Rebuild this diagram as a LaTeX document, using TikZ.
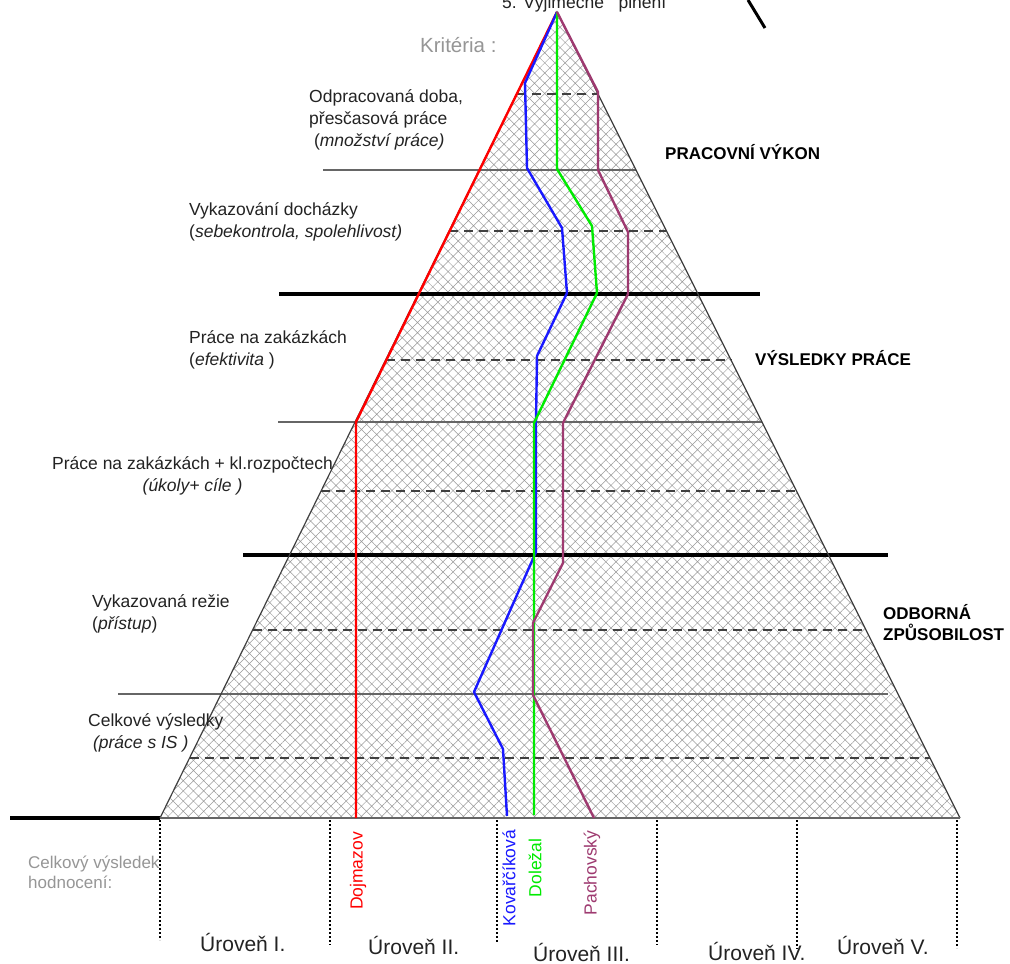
\documentclass[tikz,border=0pt]{standalone}
\usepackage{fontspec}
\setmainfont{Liberation Sans}
\usetikzlibrary{calc,patterns.meta}

\definecolor{kgreen}{RGB}{0,235,0}
\definecolor{kblue}{RGB}{25,25,255}
\definecolor{kpurple}{RGB}{158,58,112}
\definecolor{kgray}{RGB}{150,150,150}
\definecolor{ktext}{RGB}{35,35,35}

\begin{document}
\begin{tikzpicture}[x=1pt,y=-1pt,
    every node/.style={inner sep=0pt,text=ktext,font=\fontsize{17.5}{22}\selectfont},
    thick line/.style={line width=3.3pt,black},
    thin line/.style={line width=1.6pt,black!60},
    dash line/.style={line width=1.3pt,black!75,dash pattern=on 9pt off 6pt},
    level line/.style={line width=2.2pt,black,dash pattern=on 2pt off 2pt},
    person/.style={line width=2.4pt,line join=round},
    category/.style={font=\fontsize{17}{21}\selectfont\bfseries,align=left,anchor=west,text=black},
    criterion/.style={align=left,anchor=west},
    personname/.style={rotate=90,anchor=center},
    levelname/.style={font=\fontsize{21}{24}\selectfont,anchor=west}]

    \clip (0,0) rectangle (1010,964);
    \fill[white] (0,0) rectangle (1010,964);

    \coordinate (apex) at (557,12);
    \coordinate (bl)   at (160,818);
    \coordinate (br)   at (960,818);

    % pyramid
    \fill[pattern={Hatch[angle=45,distance=7.2pt,line width=0.5pt]},pattern color=black!40]
      (apex) -- (bl) -- (br) -- cycle;

    \foreach \y in {94,231,360,491,630,758}
      \draw[dash line] ($(apex)!{(\y-12)/806}!(bl)$) -- ($(apex)!{(\y-12)/806}!(br)$);

    \draw[thin line] (323,170) -- ($(apex)!{158/806}!(br)$);
    \draw[thin line] (278,422) -- ($(apex)!{410/806}!(br)$);
    \draw[thin line] (118,694) -- (888,694);

    \draw[thick line] (279,294) -- (760,294);
    \draw[thick line] (243,555) -- (888,555);
    \draw[thick line] (10,818) -- (bl);

    \draw[line width=1.2pt,black!75] (bl) -- (apex) -- (br);
    \draw[line width=1.2pt,black!60] (bl) -- (br);

    \foreach \x/\e in {160/940,330/945,497/943,657/945,797/949,957/948}
      \draw[level line] (\x,820) -- (\x,\e);

    \draw[line width=3pt] (748,0) -- (765,28);

    % persons
    \draw[person,red] (apex) -- (356,422) -- (356,818);
    \draw[person,kblue] (apex) -- (525,83) -- (527,168) -- (562,228) -- (567,293)
      -- (537,356) -- (536,423) -- (536,552) -- (474,692) -- (503,749) -- (507,816);
    \draw[person,kgreen] (apex) -- (557,169) -- (592,226) -- (597,293) -- (534,423)
      -- (534,815);
    \draw[person,kpurple] (apex) -- (598,92) -- (598,170) -- (628,232) -- (628,294)
      -- (563,423) -- (563,563) -- (533,623) -- (533,695) -- (594,818);

    % texts
    \node[anchor=base west] (top) at (502,8) {5. Výjimečné\ \ \ plnění};
    \node[anchor=west,text=kgray,font=\fontsize{20.5}{24}\selectfont] (krit) at (420,45) {Kritéria :};

    \node[criterion] (crit1) at (309,120) {Odpracovaná doba,\\přesčasová práce\\\ (\textit{množství práce)}};
    \node[criterion] (crit2) at (189,222) {Vykazování docházky\\(\textit{sebekontrola, spolehlivost)}};
    \node[criterion] (crit3) at (189,350) {Práce na zakázkách\\(\textit{efektivita} )};
    \node[criterion,align=center] (crit4) at (52,476) {Práce na zakázkách + kl.rozpočtech\\\textit{(úkoly+ cíle )}};
    \node[criterion] (crit5) at (92,614) {Vykazovaná režie\\(\textit{přístup})};
    \node[criterion] (crit6) at (88,733) {Celkové výsledky\\\ \textit{(práce s IS )}};

    \node[category] (cat1) at (665,152) {PRACOVNÍ VÝKON};
    \node[category] (cat2) at (755,358) {VÝSLEDKY PRÁCE};
    \node[category] (cat3) at (883,623) {ODBORNÁ\\ZPŮSOBILOST};

    \node[anchor=west,align=left,text=kgray,font=\fontsize{17}{20}\selectfont] (total) at (28,872) {Celkový výsledek\\hodnocení:};

    \node[personname,text=red]     (dojmazov)  at (358,871) {Dojmazov};
    \node[personname,text=kblue]   (kovarik)   at (509,878) {Kovařčíková};
    \node[personname,text=kgreen]  (dolezal)   at (535,868) {Doležal};
    \node[personname,text=kpurple] (pachovsky) at (592,873) {Pachovský};

    \node[levelname] (lev1) at (200,942) {Úroveň I.};
    \node[levelname] (lev2) at (368,945) {Úroveň II.};
    \node[levelname] (lev3) at (533,952) {Úroveň III.};
    \node[levelname] (lev4) at (708,951) {Úroveň IV.};
    \node[levelname] (lev5) at (837,945) {Úroveň V.};
\end{tikzpicture}
\end{document}
